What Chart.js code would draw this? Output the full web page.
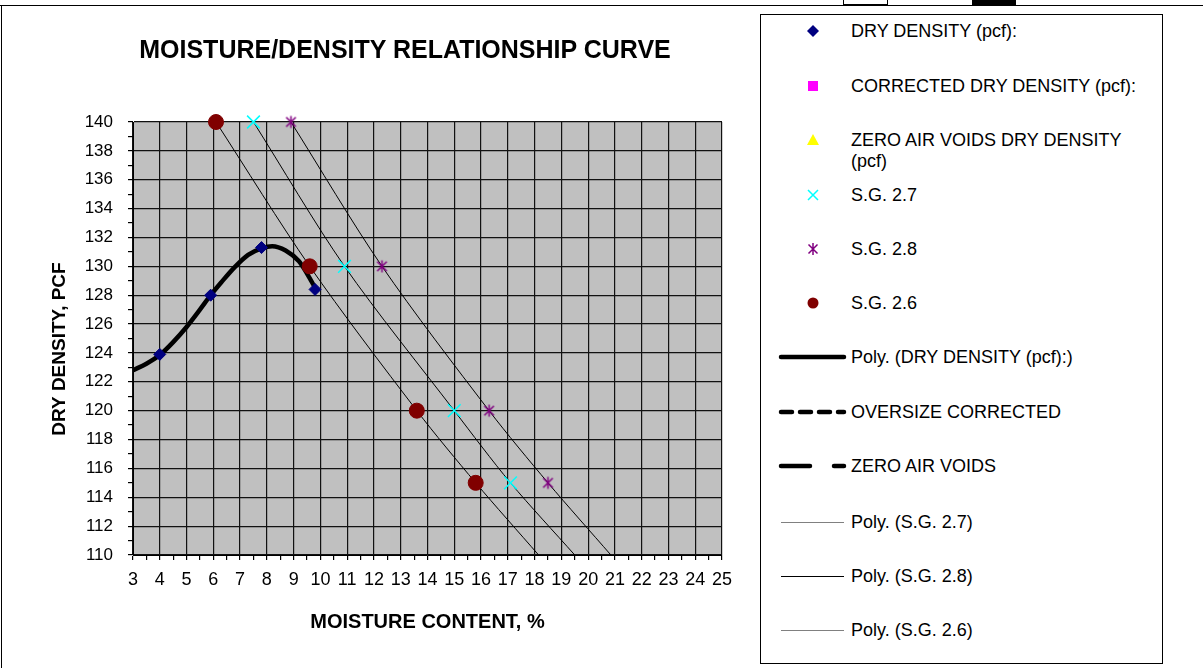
<!DOCTYPE html>
<html>
<head>
<meta charset="utf-8">
<script src="https://cdn.jsdelivr.net/npm/chart.js@4.4.0/dist/chart.umd.min.js"></script>
<style>
  body { margin: 0; background: #fff; font-family: "Liberation Sans", Arial, sans-serif; }
  #page { position: relative; width: 1203px; height: 668px; overflow: hidden; }
  #wrap { position: absolute; left: 0; top: 0; width: 760px; height: 668px; }
  .line { position: absolute; background: #000; }
  #title { position: absolute; left: 0; top: 37px; width: 810px; text-align: center;
           font-weight: bold; font-size: 25px; line-height: 25px; color: #000; }
  #legend { position: absolute; left: 760px; top: 14px; width: 401px; height: 648px;
            border: 1px solid #000; background: #fff; }
  .lrow { position: absolute; left: 90px; font-size: 18px; line-height: 21px; color: #000; white-space: nowrap; }
  .lsym { position: absolute; }
</style>
</head>
<body>
<div id="page">
  <div class="line" style="left:0;top:5px;width:1203px;height:1px"></div>
  <div class="line" style="left:1px;top:5px;width:1px;height:663px"></div>
  <div style="position:absolute;left:843px;top:0;width:43px;height:4px;border:1px solid #000;border-top:none;background:#fff"></div>
  <div class="line" style="left:972px;top:0;width:44px;height:5px"></div>
  <div id="wrap"><canvas id="chart" width="760" height="668"></canvas></div>
  <div id="title">MOISTURE/DENSITY RELATIONSHIP CURVE</div>
  <div id="legend"></div>
</div>
<script>
// measured values
const dryMoisture = [4.0, 5.9, 7.8, 9.8];
const dryDensity = [123.9, 128.0, 131.3, 128.4];

// polynomial trend of dry density
const polyMoisture = [3.0, 3.5, 4.0, 4.5, 5.0, 5.5, 5.9, 6.3, 6.8, 7.3, 7.8, 8.2, 8.7, 9.2, 9.5, 9.85];
const polyDensity = [122.8, 123.25, 123.85, 124.75, 125.8, 127.0, 128.0, 128.9, 129.95, 130.8, 131.25, 131.4, 131.1, 130.35, 129.5, 128.35];

// specific gravity points
const sgDensity = [140, 130, 120, 115];
const sg26Moisture = [6.1, 9.6, 13.6, 15.8];
const sg27Moisture = [7.5, 10.9, 15.0, 17.1];
const sg28Moisture = [8.9, 12.3, 16.3, 18.5];

// their trend lines run down to the bottom of the plot
const trendDensity = [140, 130, 120, 115, 110];
const trend26 = [6.1, 9.6, 13.6, 15.8, 18.15];
const trend27 = [7.5, 10.9, 15.0, 17.1, 19.5];
const trend28 = [8.9, 12.3, 16.3, 18.5, 20.85];

const xMin = 3, xMax = 25, yMin = 110, yMax = 140;

const legendLabels = [
  'DRY DENSITY (pcf):',
  'CORRECTED DRY DENSITY (pcf):',
  'ZERO AIR VOIDS DRY DENSITY<br>(pcf)',
  'S.G. 2.7',
  'S.G. 2.8',
  'S.G. 2.6',
  'Poly. (DRY DENSITY (pcf):)',
  'OVERSIZE CORRECTED',
  'ZERO AIR VOIDS',
  'Poly. (S.G. 2.7)',
  'Poly. (S.G. 2.8)',
  'Poly. (S.G. 2.6)'
];

function pts(xs, ys) {
  return xs.map((x, i) => ({ x: x, y: ys[i] }));
}

// excel style asterisk marker
function asterisk(size, color) {
  const c = document.createElement('canvas');
  c.width = size; c.height = size;
  const g = c.getContext('2d');
  g.strokeStyle = color;
  g.lineWidth = 1.5;
  const m = size / 2, r = size / 2 - 1.5;
  g.beginPath();
  g.moveTo(m - r * 0.8, m - r * 0.8); g.lineTo(m + r * 0.8, m + r * 0.8);
  g.moveTo(m + r * 0.8, m - r * 0.8); g.lineTo(m - r * 0.8, m + r * 0.8);
  g.moveTo(m, m - r); g.lineTo(m, m + r);
  g.stroke();
  return c;
}

const plotBg = {
  id: 'plotBg',
  beforeDraw(chart) {
    const a = chart.chartArea, ctx = chart.ctx;
    ctx.save();
    ctx.fillStyle = '#c0c0c0';
    ctx.fillRect(a.left, a.top, a.right - a.left, a.bottom - a.top);
    ctx.restore();
  }
};

const trendStyle = { showLine: true, borderColor: '#000', borderWidth: 1, pointRadius: 0, tension: 0.3, order: 2 };
const fam = 'Liberation Sans, Arial';

const ctx = document.getElementById('chart').getContext('2d');
const chart = new Chart(ctx, {
  type: 'scatter',
  data: {
    datasets: [
      { label: 'DRY DENSITY (pcf):', data: pts(dryMoisture, dryDensity), pointStyle: 'rectRot',
        pointRadius: 6, backgroundColor: '#000080', borderColor: '#000080', borderWidth: 1, order: 0, clip: false },
      { label: 'S.G. 2.7', data: pts(sg27Moisture, sgDensity), pointStyle: 'crossRot',
        pointRadius: 9, borderColor: '#00ffff', borderWidth: 1.5, order: 0, clip: false },
      { label: 'S.G. 2.8', data: pts(sg28Moisture, sgDensity), pointStyle: asterisk(15, '#800080'),
        order: 0, clip: false },
      { label: 'S.G. 2.6', data: pts(sg26Moisture, sgDensity), pointStyle: 'circle',
        pointRadius: 7.5, backgroundColor: '#800000', borderColor: '#800000', order: 0, clip: false },
      { label: 'Poly. (DRY DENSITY (pcf):)', data: pts(polyMoisture, polyDensity), showLine: true,
        borderColor: '#000', borderWidth: 4.5, pointRadius: 0, cubicInterpolationMode: 'monotone', order: 1 },
      Object.assign({ label: 'Poly. (S.G. 2.7)', data: pts(trend27, trendDensity) }, trendStyle),
      Object.assign({ label: 'Poly. (S.G. 2.8)', data: pts(trend28, trendDensity) }, trendStyle),
      Object.assign({ label: 'Poly. (S.G. 2.6)', data: pts(trend26, trendDensity) }, trendStyle)
    ]
  },
  options: {
    responsive: false,
    animation: false,
    layout: { padding: { left: 0, top: 122, right: 38, bottom: 0 } },
    plugins: {
      legend: { display: false },
      tooltip: { enabled: false }
    },
    scales: {
      x: {
        type: 'linear', min: xMin, max: xMax,
        afterFit(scale) { scale.height = 113; },
        ticks: {
          stepSize: 0.5, autoSkip: false, maxRotation: 0, padding: 9,
          color: '#000', font: { family: fam, size: 18 },
          callback: v => Number.isInteger(v) ? v : ''
        },
        grid: {
          color: c => (c.tick && Number.isInteger(c.tick.value)) ? '#111' : 'rgba(0,0,0,0)',
          tickColor: '#000', tickLength: 5, lineWidth: 1.2
        },
        border: { color: '#000', width: 1 },
        title: {
          display: true, text: 'MOISTURE CONTENT, %', color: '#000',
          font: { family: fam, size: 20, weight: 'bold' },
          padding: { top: 0, bottom: 34 }
        }
      },
      y: {
        type: 'linear', min: yMin, max: yMax,
        afterFit(scale) { scale.width = 133; },
        ticks: {
          stepSize: 1, autoSkip: false, padding: 15,
          color: '#000', font: { family: fam, size: 17 },
          callback: v => v % 2 === 0 ? v : ''
        },
        grid: {
          color: c => (c.tick && c.tick.value % 2 === 0) ? '#111' : 'rgba(0,0,0,0)',
          tickColor: '#000', tickLength: 5, lineWidth: 1.2
        },
        border: { color: '#000', width: 1 },
        title: {
          // trailing spaces nudge the rotated title down a little, like the original
          display: true, text: 'DRY DENSITY, PCF    ', color: '#000',
          font: { family: fam, size: 19, weight: 'bold' },
          padding: { top: 48, bottom: 0 }
        }
      }
    }
  },
  plugins: [plotBg]
});

// legend box, drawn as html
const rowCentres = [31, 86, 140, 195, 249, 303, 357, 412, 466, 522, 576, 630];
const symbols = [
  '<svg width="14" height="14"><polygon points="7,1 13,7 7,13 1,7" fill="#000080"/></svg>',
  '<svg width="14" height="14"><rect x="2" y="2" width="10" height="10" fill="#ff00ff"/></svg>',
  '<svg width="14" height="14"><polygon points="7,1 13,12 1,12" fill="#ffff00"/></svg>',
  '<svg width="14" height="14"><path d="M2,2L12,12M12,2L2,12" stroke="#00ffff" stroke-width="1.5"/></svg>',
  '<svg width="14" height="14"><path d="M2.5,2.5L11.5,11.5M11.5,2.5L2.5,11.5M7,1V13" stroke="#800080" stroke-width="1.5"/></svg>',
  '<svg width="14" height="14"><circle cx="7" cy="7" r="5.5" fill="#800000"/></svg>'
];
const lineSymbols = [
  '<line x1="20" y1="6" x2="83" y2="6" stroke="#000" stroke-width="4.5" stroke-linecap="round"/>',
  '<line x1="20" y1="6" x2="83" y2="6" stroke="#000" stroke-width="4.5" stroke-linecap="round" stroke-dasharray="11 8"/>',
  '<line x1="20" y1="6" x2="83" y2="6" stroke="#000" stroke-width="4.5" stroke-linecap="round" stroke-dasharray="29 24"/>',
  '<line x1="20" y1="6.5" x2="83" y2="6.5" stroke="#808080" stroke-width="1"/>',
  '<line x1="20" y1="6.5" x2="83" y2="6.5" stroke="#000" stroke-width="1"/>',
  '<line x1="20" y1="6.5" x2="83" y2="6.5" stroke="#808080" stroke-width="1"/>'
];
const legend = document.getElementById('legend');
let html = '';
legendLabels.forEach((label, i) => {
  const cy = rowCentres[i] - 15; // legend border offset
  if (i < 6) {
    html += '<div class="lsym" style="left:45px;top:' + (cy - 7) + 'px">' + symbols[i] + '</div>';
  } else {
    html += '<svg class="lsym" style="left:0;top:' + (cy - 6) + 'px" width="90" height="12">' + lineSymbols[i - 6] + '</svg>';
  }
  html += '<div class="lrow" style="top:' + (cy - 10) + 'px">' + label + '</div>';
});
legend.innerHTML = html;
</script>
</body>
</html>
